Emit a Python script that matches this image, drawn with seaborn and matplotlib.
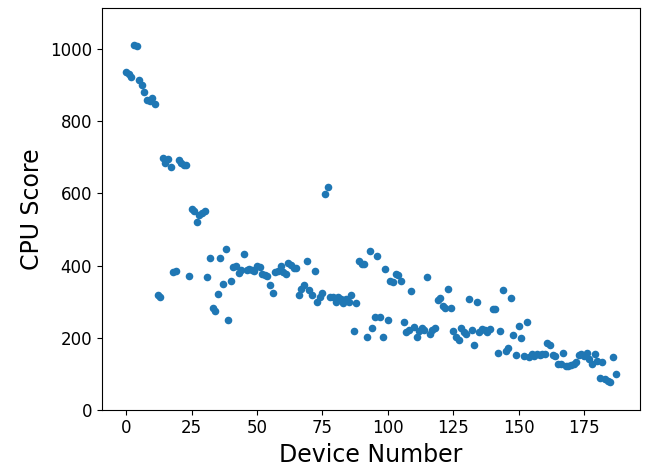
import matplotlib
matplotlib.use("Agg")
import matplotlib.pyplot as plt
import seaborn as sns
import pandas as pd

# CPU score per device (device 0..187)
cpu_scores = [
    936, 930, 924, 1013, 1010, 916, 900, 880, 860, 855,
    866, 848, 317, 314, 699, 684, 696, 673, 383, 386,
    694, 683, 680, 678, 370, 557, 550, 520, 539, 545,
    550, 367, 420, 281, 273, 321, 422, 350, 446, 249,
    356, 395, 399, 379, 388, 433, 388, 390, 388, 384,
    400, 395, 377, 375, 372, 346, 324, 381, 386, 400,
    383, 377, 406, 402, 393, 393, 317, 336, 346, 412,
    331, 318, 385, 300, 314, 323, 597, 617, 314, 314,
    300, 312, 308, 295, 308, 298, 319, 219, 295, 412,
    405, 404, 201, 440, 226, 258, 425, 256, 203, 391,
    250, 358, 354, 377, 374, 358, 244, 215, 221, 329,
    229, 201, 219, 226, 221, 369, 210, 221, 226, 303,
    309, 289, 281, 335, 281, 217, 203, 193, 226, 215,
    210, 306, 222, 180, 298, 215, 224, 221, 215, 225,
    280, 278, 157, 219, 332, 164, 171, 310, 206, 153,
    231, 198, 150, 244, 145, 155, 150, 155, 152, 155,
    155, 186, 179, 152, 150, 128, 126, 158, 121, 121,
    124, 128, 133, 152, 155, 150, 157, 142, 126, 154,
    136, 89, 133, 84, 80, 76, 147, 98,
]
device_numbers = list(range(len(cpu_scores)))

data = pd.DataFrame({
    'Device Number': device_numbers,
    'CPU Score': cpu_scores
})

fig = plt.figure(figsize=(6.49, 4.66), dpi=100)
ax = fig.add_axes([0.1567, 0.1208, 0.8294, 0.862])

sns.scatterplot(x='Device Number', y='CPU Score', data=data, ax=ax,
                color='#1f77b4', s=30, linewidth=0)

ax.set_ylim(0, max(cpu_scores) * 1.1)
ax.set_xticks([0, 25, 50, 75, 100, 125, 150, 175])
ax.set_yticks([0, 200, 400, 600, 800, 1000])
ax.tick_params(labelsize=12)
ax.set_xlabel('Device Number', fontsize=17)
ax.set_ylabel('CPU Score', fontsize=17)

fig.savefig('out.png', dpi=100)
